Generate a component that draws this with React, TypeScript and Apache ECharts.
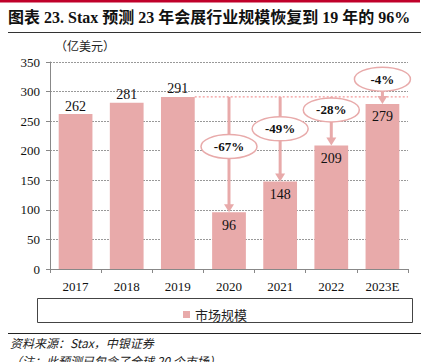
import React, { useEffect, useRef } from "react";
import * as echarts from "echarts";

const categories = ["2017", "2018", "2019", "2020", "2021", "2022", "2023E"];
const marketSize = [262, 281, 291, 96, 148, 209, 279];
const changeLabels = ["-67%", "-49%", "-28%", "-4%"];
// vertical placement (in axis units) of each change bubble, for indexes 3..6
const bubbleLevels = [207, 237, 269, 321];
const yTicks = [0, 50, 100, 150, 200, 250, 300, 350];

const PINK = "#E8AAAA";
const SERIF = "'Liberation Serif', 'Noto Sans CJK SC', serif";
const CJK = "'Noto Sans CJK SC', sans-serif";

export default function App() {
  const ref = useRef<HTMLDivElement>(null);
  useEffect(() => {
    if (!ref.current) return;
    const chart = echarts.init(ref.current, null, { renderer: "svg" });
    const baseIdx = 2;
    const baseVal = marketSize[baseIdx];
    const arrowData = changeLabels.map((t, k) => [k + 3, marketSize[k + 3], bubbleLevels[k], t]);

    chart.setOption({
      animation: false,
      grid: { left: 50, right: 22, top: 62, bottom: 93 },
      legend: {
        data: ["市场规模"],
        top: 303,
        left: "center",
        icon: "rect",
        itemWidth: 7,
        itemHeight: 7,
        itemGap: 4,
        textStyle: { fontFamily: CJK, fontSize: 13, color: "#222" },
      },
      xAxis: {
        type: "category",
        data: categories,
        axisLine: { lineStyle: { color: "#888", width: 1 } },
        axisTick: { show: true, length: 4, lineStyle: { color: "#888" } },
        axisLabel: { fontFamily: SERIF, fontSize: 13, color: "#111", margin: 11 },
      },
      yAxis: {
        type: "value",
        min: 0,
        max: 350,
        interval: 50,
        axisLine: { show: true, lineStyle: { color: "#888", width: 1 } },
        axisTick: { show: true, length: 4, lineStyle: { color: "#888" } },
        axisLabel: {
          fontFamily: SERIF,
          fontSize: 13,
          color: "#111",
          margin: 10,
          formatter: (v: number) => (yTicks.includes(v) ? String(v) : ""),
        },
        splitLine: { lineStyle: { color: "#999", type: [2, 1], width: 1 } },
      },
      series: [
        {
          name: "市场规模",
          type: "bar",
          barWidth: "66%",
          itemStyle: { color: PINK },
          data: marketSize.map((v, i) => ({
            value: v,
            label: {
              show: true,
              position: i >= 3 ? "insideTop" : "top",
              distance: i >= 3 ? 6 : 1,
              fontFamily: SERIF,
              fontSize: 14,
              color: "#111",
            },
          })),
          z: 2,
        },
        {
          type: "custom",
          silent: true,
          z: 3,
          data: [[baseIdx, baseVal]],
          renderItem: (params: any, api: any) => {
            const p = api.coord([api.value(0), api.value(1)]);
            const w = api.size([1, 0])[0];
            const endX = api.coord([categories.length - 1, baseVal])[0] + w / 2;
            return {
              type: "line",
              shape: { x1: p[0] + w * 0.33, y1: p[1], x2: endX, y2: p[1] },
              style: { stroke: "#F08080", lineWidth: 1, lineDash: [2, 2] },
            };
          },
        },
        {
          type: "custom",
          silent: true,
          z: 4,
          data: arrowData,
          renderItem: (params: any, api: any) => {
            const i = api.value(0);
            const top = api.coord([i, api.value(1)]);
            const bub = api.coord([i, api.value(2)]);
            const base = api.coord([i, baseVal]);
            const x = top[0];
            const startY = Math.min(bub[1], base[1]);
            const tipY = top[1];
            const headH = 8;
            const headW = 5;
            const label = arrowData[params.dataIndex][3] as string;
            return {
              type: "group",
              children: [
                {
                  type: "line",
                  shape: { x1: x, y1: startY, x2: x, y2: tipY - headH + 1 },
                  style: { stroke: PINK, lineWidth: 3 },
                },
                {
                  type: "polygon",
                  shape: {
                    points: [
                      [x - headW, tipY - headH],
                      [x + headW, tipY - headH],
                      [x, tipY],
                    ],
                  },
                  style: { fill: PINK },
                },
                {
                  type: "ellipse",
                  shape: { cx: x, cy: bub[1], rx: 28, ry: 12 },
                  style: { fill: "#fff", stroke: PINK, lineWidth: 1.5 },
                },
                {
                  type: "text",
                  x: x,
                  y: bub[1],
                  style: {
                    text: label,
                    fontFamily: SERIF,
                    fontWeight: "bold",
                    fontSize: 13,
                    fill: "#111",
                    align: "center",
                    verticalAlign: "middle",
                  },
                },
              ],
            };
          },
        },
      ],
      graphic: [
        { type: "rect", shape: { x: 0, y: 0, width: 420, height: 2.5 }, style: { fill: "#C0002A" } },
        {
          type: "text",
          left: 8,
          top: 9,
          style: {
            text: "图表 23. Stax 预测 23 年会展行业规模恢复到 19 年的 96%",
            fontFamily: SERIF,
            fontWeight: "bold",
            fontSize: 16,
            fill: "#111",
          },
        },
        { type: "line", shape: { x1: 8, y1: 32.5, x2: 421, y2: 32.5 }, style: { stroke: "#333", lineWidth: 1 } },
        {
          type: "text",
          left: 55,
          top: 39,
          style: { text: "（亿美元）", fontFamily: CJK, fontSize: 12, fill: "#222" },
        },
        {
          type: "rect",
          shape: { x: 37.5, y: 298.5, width: 375, height: 24 },
          style: { fill: "none", stroke: "#444", lineWidth: 1 },
        },
        { type: "line", shape: { x1: 8, y1: 333.5, x2: 421, y2: 333.5 }, style: { stroke: "#222", lineWidth: 1 } },
        {
          type: "text",
          left: 10,
          top: 336,
          style: {
            text: "资料来源：Stax，中银证券",
            fontFamily: CJK,
            fontStyle: "italic",
            fontSize: 12,
            fill: "#222",
          },
        },
        {
          type: "text",
          left: 10,
          top: 354,
          style: {
            text: "（注：此预测已包含了全球 20 个市场）",
            fontFamily: CJK,
            fontStyle: "italic",
            fontSize: 12,
            fill: "#222",
          },
        },
      ],
    });
    return () => chart.dispose();
  }, []);
  return <div ref={ref} style={{ width: 430, height: 362, position: "absolute", left: 0, top: 0 }} />;
}
